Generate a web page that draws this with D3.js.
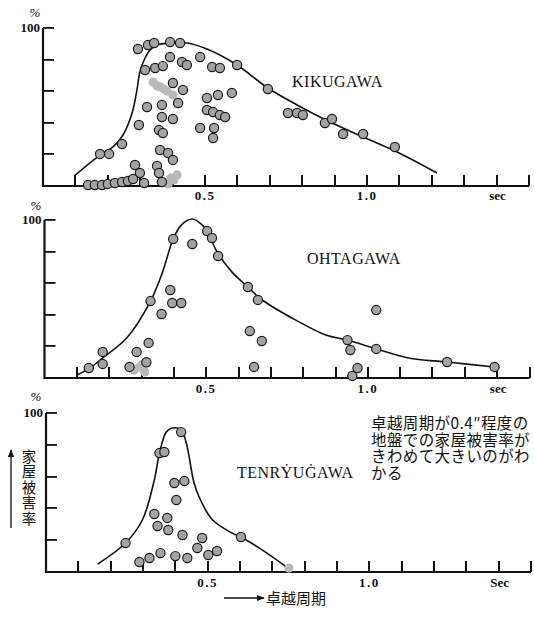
<!DOCTYPE html>
<html><head><meta charset="utf-8">
<script src="https://cdn.jsdelivr.net/npm/d3@7"></script>
<style>
html,body{margin:0;padding:0;background:#fff;}
svg{display:block;}
.num{font-family:"Liberation Serif","DejaVu Serif",serif;fill:#111;}
.jp{font-family:"Noto Sans CJK JP",sans-serif;fill:#111;}
</style></head>
<body><svg id="chart" width="534" height="618"></svg>
<script>
// ---------- DATA (period in sec, damage ratio in %) ----------
const panelNames = ["KIKUGAWA", "OHTAGAWA", "TENRẎUĠAWA"];
const unitLabels = ["sec", "sec", "Sec"];
const xTickValues = [0.1,0.2,0.3,0.4,0.5,0.6,0.7,0.8,0.9,1.0,1.1,1.2,1.3,1.4,1.5];
const xTickLabels = ["0.5", "1.0"];
const xTickLabelValues = [0.5, 1.0];
const yTickValues = [20, 40, 60, 80, 100];
const yTopLabel = "100";

// KIKUGAWA
const kikuPoints = [
  [0.293,86.7],[0.324,89.2],[0.343,90.5],[0.392,91.1],[0.423,90.5],
  [0.392,81.6],[0.429,78.5],[0.444,76.6],[0.485,81.6],[0.522,75.3],[0.546,74.7],[0.599,76.6],
  [0.315,73.4],[0.346,74.7],[0.370,75.9],
  [0.401,65.2],[0.432,60.8],[0.417,52.5],
  [0.321,50.0],[0.367,51.3],[0.367,43.7],[0.401,42.4],
  [0.296,38.6],[0.358,35.4],[0.370,33.5],
  [0.506,55.7],[0.540,57.6],[0.583,58.9],
  [0.506,48.1],[0.525,46.8],[0.546,44.9],[0.562,43.7],
  [0.485,36.7],[0.528,36.7],[0.525,30.4],
  [0.244,26.6],[0.176,20.3],[0.204,20.3],
  [0.361,22.8],[0.386,20.9],[0.401,16.5],
  [0.284,13.3],[0.299,8.2],[0.312,1.9],
  [0.352,12.7],[0.358,8.2],[0.367,2.5],
  [0.139,0.6],[0.160,0.6],[0.182,0.6],[0.200,1.3],[0.222,1.9],[0.244,2.5],[0.262,3.2],[0.278,4.4],
  [0.694,61.4],[0.756,46.2],[0.784,46.2],[0.802,44.9],[0.870,39.9],[0.892,42.4],
  [0.926,32.9],[0.988,32.9],[1.086,24.7]
];
const kikuSmudges = [
  [0.340,65.8],[0.352,63.5],[0.361,62.7],[0.372,61.5],[0.383,60.1],[0.401,57.6],
  [0.414,7.0],[0.404,3.8],[0.386,1.3],[0.395,5.0]
];
const kikuCurve = [
  [0.096,6.3],[0.176,19.6],[0.216,24.7],[0.247,32.3],[0.275,46.2],[0.290,60.8],[0.299,72.2],
  [0.315,81],[0.330,86],[0.352,89.2],[0.401,90.5],[0.444,90.5],[0.506,86.7],[0.599,76.6],
  [0.694,62],[0.784,51.3],[0.886,40.5],[0.988,31],[1.093,21.5],[1.216,8.2]
];

// OHTAGAWA
const ohtaPoints = [
  [0.137,6.3],[0.180,16.5],[0.180,8.9],[0.328,48.7],[0.398,88],[0.457,84.8],[0.503,93],
  [0.518,88.6],[0.537,77.2],[0.629,57.6],[0.660,49.4],[0.389,55.7],[0.395,47.5],[0.423,47.5],
  [0.362,40.5],[0.322,22.2],[0.285,16.5],[0.263,7],[0.315,10],
  [0.635,29.7],[0.672,23.4],[0.648,7],
  [0.937,24],[0.946,17.7],[1.026,43],[1.026,18.4],[1.245,10.1],[1.392,7],[0.968,6.3],[0.952,1.3]
];
const ohtaSmudges = [[0.278,5],[0.294,7],[0.300,8.2],[0.310,3.8]];
const ohtaCurve = [
  [0.1,1.9],[0.14,6.3],[0.18,12.7],[0.254,25.3],[0.328,48.7],[0.365,67],[0.398,88],[0.423,96.8],
  [0.457,100.6],[0.488,96.8],[0.503,93],[0.534,79.7],[0.58,67],[0.629,57.6],[0.669,50],
  [0.765,38],[0.87,27.2],[0.937,24],[1.026,18.4],[1.125,12.7],[1.245,10.1],[1.392,7]
];

// TENRYUGAWA
const tenrPoints = [
  [0.418,88],[0.351,74.8],[0.366,75.5],[0.397,56],[0.428,57.2],[0.403,45.3],
  [0.335,36.5],[0.375,34],[0.345,28.9],[0.378,26.4],[0.422,23.3],[0.483,21.4],[0.468,15.1],
  [0.246,18.2],[0.603,22],[0.289,6.3],[0.320,8.8],[0.354,11.9],[0.400,10],[0.437,8.8],
  [0.502,10.7],[0.529,13.2]
];
const tenrSmudges = [[0.751,2.5]];
const tenrCurve = [
  [0.16,5],[0.246,18.2],[0.298,32.7],[0.335,57.9],[0.351,74.8],[0.372,88],[0.391,90.6],
  [0.418,89.3],[0.434,81],[0.458,56],[0.474,47],[0.514,33],[0.575,24.5],[0.603,22],
  [0.66,15],[0.70,9.5],[0.745,3]
];

const annotationLines = ["卓越周期が0.4″程度の", "地盤での家屋被害率が", "きわめて大きいのがわ", "かる"];
const yAxisTitle = "家屋被害率";
const xAxisTitle = "卓越周期";

// ---------- LAYOUT ----------
const layouts = [
  {x0:43,   x1:529,   yTop:28,  yBase:186, name:[292,87],  pct:[35,17],  lab:200},
  {x0:44.5, x1:529.5, yTop:220, yBase:378, name:[307,264], pct:[36,210], lab:393},
  {x0:46,   x1:531,   yTop:413, yBase:572, name:[237,478], pct:[36,401], lab:587}
];
const pointsSets = [kikuPoints, ohtaPoints, tenrPoints];
const smudgeSets = [kikuSmudges, ohtaSmudges, tenrSmudges];
const curveSets = [kikuCurve, ohtaCurve, tenrCurve];

const svg = d3.select("#chart");
const R = 4.6;

layouts.forEach((L, i) => {
  const x = d3.scaleLinear().domain([0, 1.5]).range([L.x0, L.x1]);
  const y = d3.scaleLinear().domain([0, 100]).range([L.yBase, L.yTop]);
  const g = svg.append("g");

  // x ticks (inward, pointing up)
  g.append("g").selectAll("rect").data(xTickValues).join("rect")
    .attr("x", d => Math.round(x(d)) - 1).attr("width", 2)
    .attr("y", y(0) - 11).attr("height", 11)
    .attr("fill", "#111");
  // y ticks (inward, pointing right)
  g.append("g").selectAll("rect").data(yTickValues).join("rect")
    .attr("x", x(0)).attr("width", 11)
    .attr("y", d => Math.round(y(d)) - 1).attr("height", 1.8)
    .attr("fill", "#111");

  // axis lines
  g.append("path")
    .attr("d", `M${x(0)},${y(100)}V${y(0)}H${x(1.5)}`)
    .attr("fill","none").attr("stroke","#111").attr("stroke-width",2.2);

  // labels
  g.append("text").attr("class","num").attr("x", x(0)-3).attr("y", y(100)+4)
    .attr("text-anchor","end").attr("font-size",13).attr("font-weight","bold").text(yTopLabel);
  g.append("text").attr("class","num").attr("x", L.pct[0]).attr("y", L.pct[1])
    .attr("text-anchor","middle").attr("font-size",13).attr("font-style","italic").text("%");
  xTickLabelValues.forEach((v, k) => {
    g.append("text").attr("class","num").attr("x", x(v)).attr("y", L.lab)
      .attr("text-anchor","middle").attr("font-size",13).attr("font-weight","bold")
      .attr("letter-spacing",1.5).text(xTickLabels[k]);
  });
  g.append("text").attr("class","num").attr("x", x(1.4)+1).attr("y", L.lab)
    .attr("text-anchor","middle").attr("font-size",13).attr("font-weight","bold").text(unitLabels[i]);
  g.append("text").attr("class","num").attr("x", L.name[0]).attr("y", L.name[1])
    .attr("font-size",16).attr("letter-spacing",0.5).text(panelNames[i]);

  // curve
  const line = d3.line().x(d => x(d[0])).y(d => y(d[1])).curve(d3.curveCatmullRom.alpha(0.5));
  g.append("path").datum(curveSets[i]).attr("d", line)
    .attr("fill","none").attr("stroke","#111").attr("stroke-width",1.6);

  // smudges (light grey, no outline)
  g.append("g").selectAll("circle").data(smudgeSets[i]).join("circle")
    .attr("cx", d => x(d[0])).attr("cy", d => y(d[1])).attr("r", R)
    .attr("fill","#b9b9b9");
  // points
  g.append("g").selectAll("circle").data(pointsSets[i]).join("circle")
    .attr("cx", d => x(d[0])).attr("cy", d => y(d[1])).attr("r", R)
    .attr("fill","#a3a3a3").attr("stroke","#1a1a1a").attr("stroke-width",1.2);
});

// annotation
const ann = svg.append("text").attr("class","jp").attr("font-size",15.5).attr("letter-spacing",0.4);
annotationLines.forEach((t, k) => {
  ann.append("tspan").attr("x", 371).attr("y", 429 + k*16.5).text(t);
});

// y axis title (vertical) with arrow
svg.append("text").attr("class","jp").attr("font-size",14.5)
  .attr("x", 29).attr("y", 449)
  .style("writing-mode","vertical-rl").attr("letter-spacing",1)
  .text(yAxisTitle);
svg.append("defs").append("marker").attr("id","ah").attr("viewBox","0 0 10 10")
  .attr("refX",9).attr("refY",5).attr("markerWidth",6).attr("markerHeight",6).attr("orient","auto")
  .append("path").attr("d","M0,1L10,5L0,9Z").attr("fill","#111");
svg.append("line").attr("x1",11).attr("y1",528).attr("x2",11).attr("y2",450)
  .attr("stroke","#111").attr("stroke-width",1.3).attr("marker-end","url(#ah)");

// x axis title with arrow
svg.append("line").attr("x1",224).attr("y1",598).attr("x2",264).attr("y2",598)
  .attr("stroke","#111").attr("stroke-width",1.3).attr("marker-end","url(#ah)");
svg.append("text").attr("class","jp").attr("x",266).attr("y",603.5).attr("font-size",15).text(xAxisTitle);
</script></body></html>
